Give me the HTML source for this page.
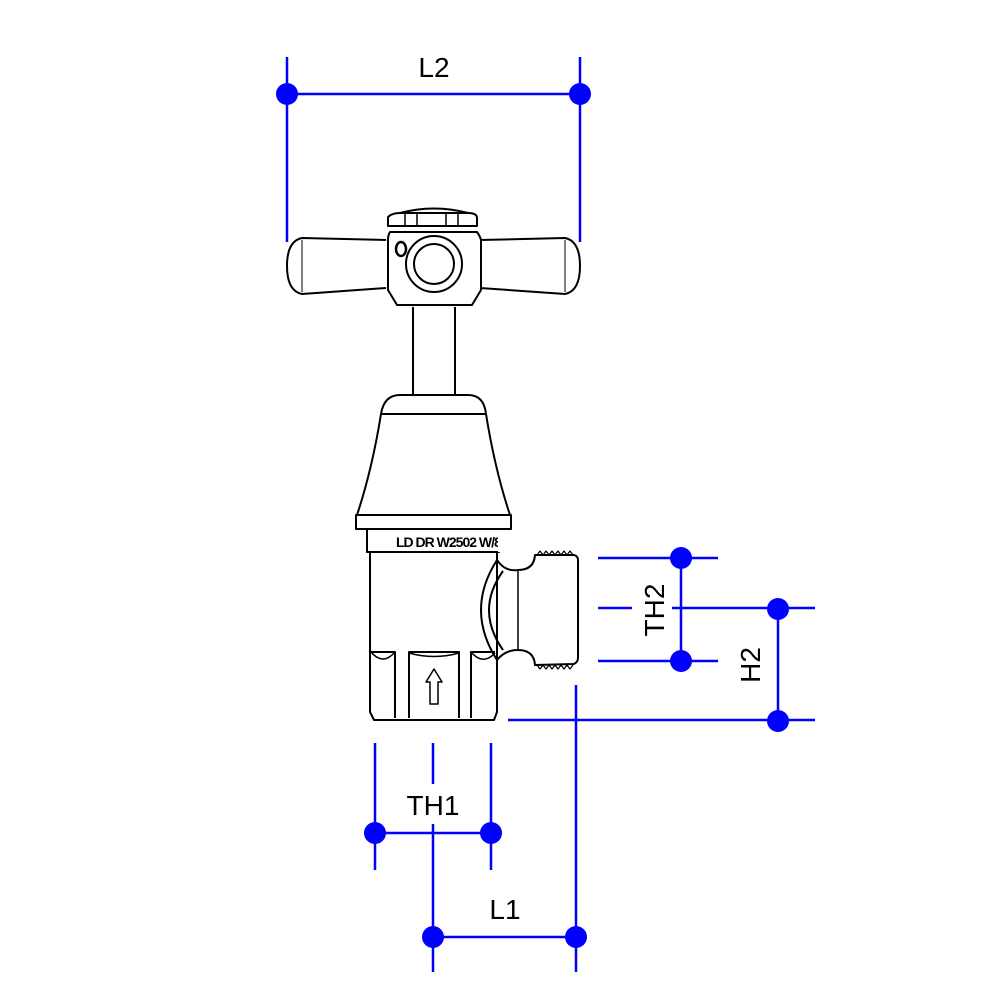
<!DOCTYPE html>
<html><head><meta charset="utf-8"><style>html,body{margin:0;padding:0;background:#fff}svg{display:block}</style></head><body>
<svg width="1000" height="1000" viewBox="0 0 1000 1000" xmlns="http://www.w3.org/2000/svg">
<g fill="none" stroke="#000" stroke-width="2" stroke-linejoin="round">
 <path d="M386 240 L302 238 Q287 241 287 266 Q287 291 302 294 L386 288"/>
 <line x1="302" y1="240" x2="302" y2="292" stroke-width="1"/>
 <path d="M480 240 L565 238 Q580 241 580 266 Q580 291 565 294 L480 288"/>
 <line x1="565" y1="240" x2="565" y2="292" stroke-width="1"/>
 <path d="M388 226 L388 217 Q392 213 400 213 L468 213 Q477 213 477 218 L477 226 Z"/>
 <path d="M405 213 L405 226 M417 213 L417 226 M446 213 L446 226 M458 213 L458 226" stroke-width="1.5"/>
 <path d="M400 213 Q434 204 468 213" />
 <path d="M390 232 L477 232 Q480 236 481 240 L481 290 L472 305 L397 305 L388 290 L388 240 Q388 235 390 232 Z"/>
 <circle cx="434" cy="264" r="28"/>
 <circle cx="434" cy="264" r="20"/>
 <ellipse cx="401" cy="249" rx="5" ry="7" stroke-width="2.5"/>
 <line x1="413" y1="307" x2="413" y2="395"/>
 <line x1="455" y1="307" x2="455" y2="395"/>
 <path d="M381 414 Q384 395 400 395 L468 395 Q484 395 486 414 L381 414 Z"/>
 <path d="M381 414 Q372 470 357 515 L510 515 Q495 470 486 414"/>
 <rect x="356" y="515" width="155" height="14"/>
 <rect x="367" y="529" width="132" height="23"/>
 <path d="M370 552 L370 712 L374 720 L494 720 L497 712 L497 552"/>
 <path d="M370 652 L395 652 L395 718 M409 718 L409 652 L459 652 L459 718 M471 718 L471 652 L495 652"/>
 <path d="M371 652 Q383 666 395 652 M409 653 Q434 660 459 653 M471 652 Q483 666 495 653" stroke-width="1.5"/>
 <path d="M430 704 L430 682 L426 682 L434 669 L442 682 L438 682 L438 704 Z" stroke-width="1.5"/>
 <path d="M497 560 Q505 572 518 570 Q534 570 535 555 L574 555 Q578 556 578 560 L578 658 Q578 662 574 664 L535 665 Q534 650 518 650 Q505 650 497 660"/>
 <path d="M497 560 Q465 610 497 660"/>
 <path d="M503 571 Q475 610 503 650"/>
 <line x1="518" y1="570" x2="518" y2="650" stroke-width="1.5"/>
 <path d="M537 555 l3 -4 l3 4 l3 -4 l3 4 l3 -4 l3 4 l3 -4 l3 4 l3 -4 l3 4 l3 -4 l3 4 M537 665 l3 4 l3 -4 l3 4 l3 -4 l3 4 l3 -4 l3 4 l3 -4 l3 4 l3 -4 l3 4 l3 -4" stroke-width="1.2"/>
</g>
<text x="396" y="547" font-family="Liberation Sans, sans-serif" font-size="14" font-weight="bold" letter-spacing="-1">LD DR W2502 W/80</text>
<rect x="498" y="530" width="12" height="22" fill="#fff"/>
<g stroke="#0000ff" stroke-width="2.5" fill="none">
 <line x1="287" y1="57" x2="287" y2="242"/><line x1="580" y1="57" x2="580" y2="242"/><line x1="287" y1="94" x2="580" y2="94"/>
 <line x1="598" y1="558" x2="718" y2="558"/><line x1="598" y1="661" x2="718" y2="661"/><line x1="681" y1="558" x2="681" y2="661"/>
 <line x1="598" y1="608" x2="632" y2="608"/><line x1="672" y1="608" x2="815" y2="608"/>
 <line x1="508" y1="720" x2="815" y2="720"/><line x1="778" y1="608" x2="778" y2="720"/>
 <line x1="375" y1="743" x2="375" y2="870"/><line x1="491" y1="743" x2="491" y2="870"/><line x1="375" y1="833" x2="491" y2="833"/>
 <line x1="433" y1="743" x2="433" y2="784"/><line x1="433" y1="824" x2="433" y2="972"/>
 <line x1="576" y1="685" x2="576" y2="972"/><line x1="433" y1="937" x2="576" y2="937"/>
</g>
<g fill="#0000ff">
 <circle cx="287" cy="94" r="11"/><circle cx="580" cy="94" r="11"/>
 <circle cx="681" cy="558" r="11"/><circle cx="681" cy="661" r="11"/>
 <circle cx="778" cy="609" r="11"/><circle cx="778" cy="721" r="11"/>
 <circle cx="375" cy="833" r="11"/><circle cx="491" cy="833" r="11"/>
 <circle cx="433" cy="937" r="11"/><circle cx="576" cy="937" r="11"/>
</g>
<g font-family="Liberation Sans, Arial, sans-serif" font-size="28" fill="#000" text-anchor="middle">
 <text x="434" y="77">L2</text>
 <text x="433" y="815">TH1</text>
 <text x="505" y="919">L1</text>
 <text transform="translate(664,610) rotate(-90)">TH2</text>
 <text transform="translate(760,665) rotate(-90)">H2</text>
</g>
</svg>
</body></html>
